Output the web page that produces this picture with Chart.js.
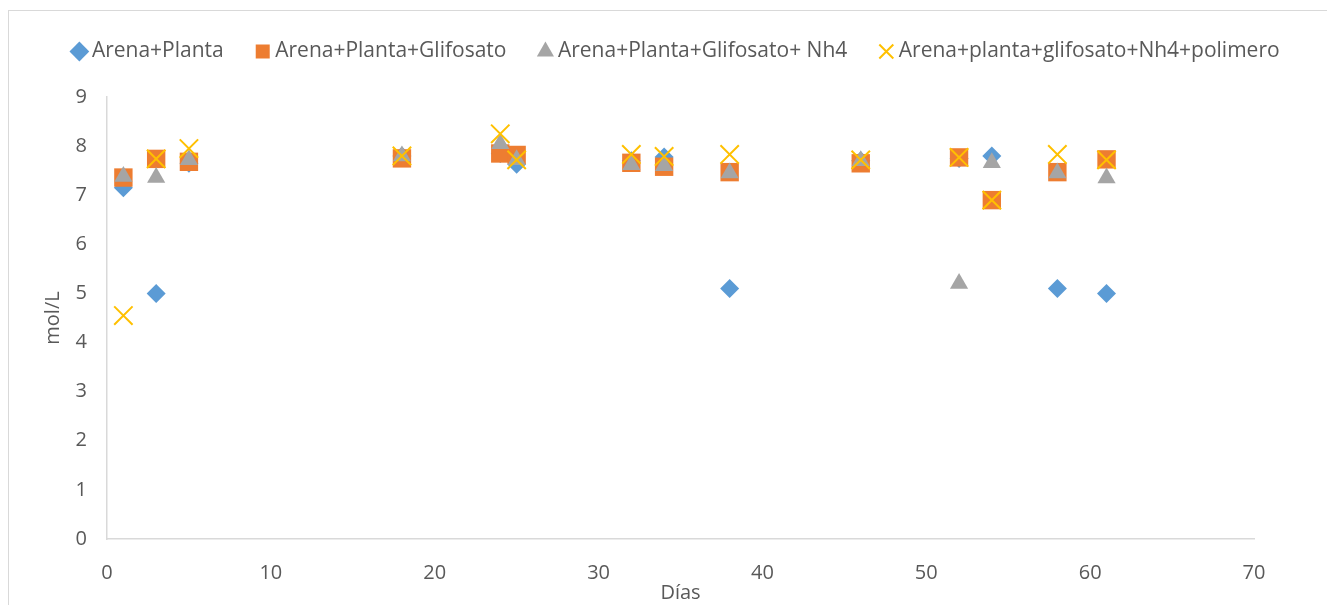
<!DOCTYPE html>
<html>
<head>
<meta charset="utf-8">
<script src="https://cdn.jsdelivr.net/npm/chart.js@4.4.1/dist/chart.umd.min.js"></script>
<style>
  html, body { margin: 0; padding: 0; background: #fff; overflow: hidden; }
  #frame { position: absolute; left: 8px; top: 10px; width: 1400px; height: 700px; border: 1px solid #d9d9d9; box-sizing: border-box; }
  #wrap { position: absolute; left: 0px; top: 0px; width: 1319px; height: 594px; }
</style>
</head>
<body>
<div id="frame"><div id="wrap"><canvas id="c"></canvas></div></div>
<script>
const dias      = [1, 3, 5, 18, 24, 25, 32, 34, 38, 46, 52, 54, 58, 61];
const planta    = [7.15, 5.0, 7.65, 7.8, 7.85, 7.63, 7.7, 7.78, 5.1, 7.7, 7.75, 7.8, 5.1, 5.0];
const glifosato = [7.36, 7.74, 7.68, 7.75, 7.85, 7.82, 7.66, 7.58, 7.47, 7.65, 7.77, 6.9, 7.47, 7.73];
const nh4       = [7.38, 7.36, 7.72, 7.8, 8.05, 7.72, 7.62, 7.6, 7.45, 7.7, 5.2, 7.66, 7.45, 7.35];
const polimero  = [4.55, 7.74, 7.95, 7.8, 8.25, 7.72, 7.83, 7.79, 7.83, 7.72, 7.77, 6.9, 7.83, 7.72];
const seriesNames = ['Arena+Planta', 'Arena+Planta+Glifosato', 'Arena+Planta+Glifosato+ Nh4', 'Arena+planta+glifosato+Nh4+polimero'];
const xTitle = 'Días';
const yTitle = 'mol/L';

function pts(ys) { return dias.map((d, i) => ({ x: d, y: ys[i] })); }

const txt = '#595959';
const fontFam = '"Open Sans", "Liberation Sans", sans-serif';

const legendHeightPlugin = {
  id: 'legendHeight',
  beforeLayout(chart) {
    const lg = chart.legend;
    if (lg && !lg._wrappedFit) {
      const orig = lg.fit;
      lg.fit = function () { orig.call(this); this.height = 93; };
      lg._wrappedFit = true;
    }
  }
};

new Chart(document.getElementById('c'), {
  type: 'scatter',
  data: {
    datasets: [
      { label: seriesNames[0], data: pts(planta), pointStyle: 'rectRot', pointRadius: 9.5, backgroundColor: '#5B9BD5', borderColor: '#5B9BD5', borderWidth: 0, order: 4 },
      { label: seriesNames[1], data: pts(glifosato), pointStyle: 'rect', pointRadius: 13, backgroundColor: '#ED7D31', borderColor: '#ED7D31', borderWidth: 0, order: 3 },
      { label: seriesNames[2], data: pts(nh4), pointStyle: 'triangle', pointRadius: 10.5, backgroundColor: '#A5A5A5', borderColor: '#A5A5A5', borderWidth: 0, order: 2 },
      { label: seriesNames[3], data: pts(polimero), pointStyle: 'crossRot', pointRadius: 13, backgroundColor: '#FFC000', borderColor: '#FFC000', borderWidth: 2, order: 1 }
    ]
  },
  options: {
    responsive: true,
    maintainAspectRatio: false,
    animation: false,
    layout: { padding: { left: 20, right: 0, top: -7, bottom: 0 } },
    plugins: {
      tooltip: { enabled: false },
      legend: {
        position: 'top',
        labels: {
          usePointStyle: true,
          boxWidth: 4,
          boxHeight: 14,
          padding: 37,
          color: txt,
          font: { family: fontFam, size: 21 },
          sort: (a, b) => a.datasetIndex - b.datasetIndex
        }
      }
    },
    scales: {
      x: {
        type: 'linear', min: 0, max: 70,
        ticks: { stepSize: 10, color: txt, font: { family: fontFam, size: 20 }, padding: 22 },
        grid: { color: 'rgba(0,0,0,0)', drawTicks: false },
        border: { display: true, color: '#d9d9d9', width: 1.5 },
        title: { display: true, text: xTitle, color: txt, font: { family: fontFam, size: 20 }, padding: { top: -8, bottom: 0 } },
        afterFit: (s) => { s.height = 66; }
      },
      y: {
        type: 'linear', min: 0, max: 9,
        ticks: { stepSize: 1, color: txt, font: { family: fontFam, size: 20 }, padding: 20 },
        grid: { color: 'rgba(0,0,0,0)', drawTicks: false },
        border: { display: true, color: '#d9d9d9', width: 1.5 },
        title: { display: true, text: yTitle, color: txt, font: { family: fontFam, size: 20 }, padding: { top: 12, bottom: 0 } },
        afterFit: (s) => { s.width = 78; }
      },
      yR: {
        type: 'linear', position: 'right', min: 0, max: 9,
        ticks: { display: false },
        grid: { display: false, drawTicks: false },
        border: { display: false },
        afterFit: (s) => { s.width = 74; }
      }
    }
  },
  plugins: [legendHeightPlugin]
});
</script>
</body>
</html>
